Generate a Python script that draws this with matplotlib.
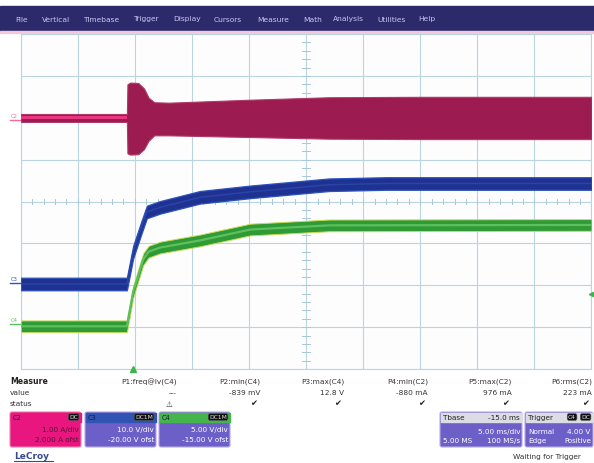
import matplotlib
matplotlib.use("Agg")
import matplotlib.pyplot as plt
from matplotlib.patches import FancyBboxPatch, Rectangle

W, H = 594, 464

# screen grid in pixels
GRID_L, GRID_R, GRID_T, GRID_B = 20.7, 591.5, 35, 370

menu_items = ["File", "Vertical", "Timebase", "Trigger", "Display", "Cursors",
              "Measure", "Math", "Analysis", "Utilities", "Help"]
menu_x = [15, 42, 83, 133, 173, 214, 257, 303, 333, 377, 418]

# channel settings (from the descriptor boxes)
time_per_div = 5.00              # ms/div
c2_scale, c2_offset = 1.00, 2.000    # A/div, A ofst
c3_scale, c3_offset = 10.0, -20.00   # V/div, V ofst
c4_scale, c4_offset = 5.00, -15.00   # V/div, V ofst
trig_level = 4.00                # V on C4
trig_time = 9.85                 # ms from left edge

# C2 current envelope (ms, A)
c2_t = [0, 9.3, 9.35, 9.6, 10.3, 10.8, 11.2, 11.7, 13.0, 20.0, 27.0, 35.0, 50.0]
c2_hi = [0.09, 0.09, 0.80, 0.84, 0.83, 0.70, 0.48, 0.37, 0.36, 0.43, 0.49, 0.50, 0.50]
c2_lo = [-0.10, -0.10, -0.85, -0.88, -0.87, -0.75, -0.55, -0.42, -0.42, -0.46, -0.50, -0.51, -0.51]
# bright idle part before the switch-on
c2_idle_t = [0, 9.3]
c2_idle_hi = [0.04, 0.04]
c2_idle_lo = [-0.04, -0.04]

# C3 voltage (ms, V) and noise half-band
c3_t = [0, 9.3, 9.85, 10.6, 11.05, 12.2, 15.7, 20.1, 27.0, 32.0, 50.0]
c3_v = [0.3, 0.3, 7.9, 14.0, 17.5, 18.6, 21.0, 22.3, 24.0, 24.3, 24.3]
c3_band = 1.5

# C4 voltage (ms, V) and noise half-band
c4_t = [0, 9.3, 9.85, 10.73, 11.2, 12.2, 15.7, 20.1, 27.0, 50.0]
c4_v = [0.1, 0.1, 4.2, 8.1, 9.0, 9.5, 10.35, 11.65, 12.15, 12.2]
c4_band = 0.7

meas_names = ["P1:freq@lv(C4)", "P2:min(C4)", "P3:max(C4)", "P4:min(C2)", "P5:max(C2)", "P6:rms(C2)"]
meas_values = ["---", "-839 mV", "12.8 V", "-880 mA", "976 mA", "223 mA"]
meas_status = ["\u26a0", "\u2714", "\u2714", "\u2714", "\u2714", "\u2714"]
meas_right = [177, 260, 344, 428, 512, 592]


def to_div(vals, scale, offset):
    return [(v + offset) / scale for v in vals]


fig = plt.figure(figsize=(W / 100, H / 100), dpi=100)
fig.patch.set_facecolor("white")

# background axes in pixel coordinates
bg = fig.add_axes([0, 0, 1, 1])
bg.set_xlim(0, W)
bg.set_ylim(H, 0)
bg.axis("off")

# menu bar
bg.add_patch(Rectangle((0, 7), W, 25, color="#2d2a6c"))
bg.add_patch(Rectangle((0, 32), W, 1.5, color="#f1c9da"))
for name, x in zip(menu_items, menu_x):
    bg.text(x, 19.5, name, color="#c9c3f2", fontsize=5.4, ha="left", va="center")

# scope axes
ax = fig.add_axes([GRID_L / W, 1 - GRID_B / H, (GRID_R - GRID_L) / W, (GRID_B - GRID_T) / H])
ax.set_facecolor("#fdfdfe")
ax.set_xlim(0, 10 * time_per_div)
ax.set_ylim(-4, 4)
ax.set_xticks([i * time_per_div for i in range(11)])
ax.set_yticks(range(-4, 5))
ax.tick_params(length=0, labelbottom=False, labelleft=False)
ax.grid(True, color="#bad4e0", lw=0.8)
for s in ax.spines.values():
    s.set_color("#bad4e0")
    s.set_linewidth(0.8)
# minor ticks on the centre cross
for i in range(51):
    x = i * time_per_div / 5
    ax.plot([x, x], [-0.07, 0.07], color="#a9c8d8", lw=0.7)
for i in range(41):
    y = -4 + i * 0.2
    ax.plot([25 - 0.35, 25 + 0.35], [y, y], color="#a9c8d8", lw=0.7)

# C2 trace
ax.fill_between(c2_t, to_div(c2_hi, c2_scale, c2_offset), to_div(c2_lo, c2_scale, c2_offset),
                color="#9c1b50", lw=0.8, edgecolor="#b03a68", zorder=3)
ax.fill_between(c2_idle_t, to_div(c2_idle_hi, c2_scale, c2_offset),
                to_div(c2_idle_lo, c2_scale, c2_offset), color="#e8357f", lw=0, zorder=4)

# C3 trace
c3_hi = [v + c3_band for v in c3_v]
c3_lo = [v - c3_band for v in c3_v]
ax.fill_between(c3_t, to_div(c3_hi, c3_scale, c3_offset), to_div(c3_lo, c3_scale, c3_offset),
                color="#1f3292", edgecolor="#2c52bc", lw=0.9, zorder=3)
ax.plot(c3_t, to_div(c3_v, c3_scale, c3_offset), color="#2a45a8", lw=1.0, zorder=4)

# C4 trace
c4_hi = [v + c4_band for v in c4_v]
c4_lo = [v - c4_band for v in c4_v]
ax.fill_between(c4_t, to_div(c4_hi, c4_scale, c4_offset), to_div(c4_lo, c4_scale, c4_offset),
                color="#2f9a36", edgecolor="#c9dc5a", lw=0.7, zorder=3)
ax.plot(c4_t, to_div(c4_v, c4_scale, c4_offset), color="#5cc05e", lw=1.6, zorder=4)

# trigger markers
ax.plot([trig_time], [-4], marker="^", color="#3cb44a", ms=4, clip_on=False, zorder=6)
ax.plot([50], [(trig_level + c4_offset) / c4_scale], marker="<", color="#3cb44a", ms=3,
        clip_on=False, zorder=6)

# channel tags on the left
for lbl, col, y in [("C2", "#f06aa0", 117), ("C3", "#2c55bc", 280), ("C4", "#5cc060", 321)]:
    bg.text(11, y, lbl, color=col, fontsize=3.8, ha="left", va="center")
    bg.plot([10, 20], [y + 4, y + 4], color=col, lw=1.0)

# measure table
bg.text(10, 382, "Measure", fontsize=5.6, weight="bold", color="#222222", va="center")
bg.text(10, 393, "value", fontsize=5.3, color="#333333", va="center")
bg.text(10, 404, "status", fontsize=5.3, color="#333333", va="center")
for name, val, st, xr in zip(meas_names, meas_values, meas_status, meas_right):
    bg.text(xr, 382, name, fontsize=5.3, color="#333333", ha="right", va="center")
    if val == "---":
        bg.text(xr - 4, 393, val, fontsize=5.3, color="#333333", ha="center", va="center")
        bg.text(xr - 8, 404, st, fontsize=5.5, color="#333333", ha="center", va="center")
    else:
        bg.text(xr, 393, val, fontsize=5.3, color="#333333", ha="right", va="center")
        bg.text(xr - 6, 404, st, fontsize=6, color="#222222", ha="center", va="center")


def box(x, y, w, h, face, edge):
    bg.add_patch(FancyBboxPatch((x, y), w, h, boxstyle="round,pad=0,rounding_size=2",
                                facecolor=face, edgecolor=edge, lw=0.8))


def badge(xr, y, txt):
    bg.text(xr, y, txt, fontsize=4.3, color="#e0e0e0", ha="right", va="center",
            bbox=dict(boxstyle="round,pad=0.15,rounding_size=0.3", fc="#111111", ec="#555555", lw=0.4))


# channel descriptor boxes
chan_boxes = [
    ("C2", 10, "#e8167e", "#e8167e", "DC", ["1.00 A/div", "2.000 A ofst"], "#5b1234"),
    ("C3", 85, "#2f54b4", "#6c60c8", "DC1M", ["10.0 V/div", "-20.00 V ofst"], "white"),
    ("C4", 159, "#44b54a", "#6c60c8", "DC1M", ["5.00 V/div", "-15.00 V ofst"], "white"),
]
for name, x0, head, body, bdg, lines, tcol in chan_boxes:
    box(x0, 413, 71, 35, body, "#b8a8e8" if body != head else "#f080b0")
    bg.add_patch(Rectangle((x0 + 0.5, 413.5), 70, 9.5, color=head))
    bg.text(x0 + 3, 418, name, fontsize=4.8, color="#1a1a40", va="center")
    badge(x0 + 68, 418, bdg)
    bg.text(x0 + 69, 430, lines[0], fontsize=5.2, color=tcol, ha="right", va="center")
    bg.text(x0 + 69, 440, lines[1], fontsize=5.2, color=tcol, ha="right", va="center")

# timebase box
box(440, 413, 82, 35, "#6c60c8", "#b8a8e8")
bg.add_patch(Rectangle((440.5, 413.5), 81, 9.5, color="#dcdce4"))
bg.text(443, 418, "Tbase", fontsize=5.2, color="#222222", va="center")
bg.text(520, 418, "-15.0 ms", fontsize=5.2, color="#222222", ha="right", va="center")
bg.text(520, 432, "5.00 ms/div", fontsize=5.2, color="white", ha="right", va="center")
bg.text(443, 441, "5.00 MS", fontsize=5.2, color="white", va="center")
bg.text(520, 441, "100 MS/s", fontsize=5.2, color="white", ha="right", va="center")

# trigger box
box(525, 413, 68, 35, "#6c60c8", "#b8a8e8")
bg.add_patch(Rectangle((525.5, 413.5), 67, 9.5, color="#dcdce4"))
bg.text(528, 418, "Trigger", fontsize=5.2, color="#222222", va="center")
badge(576, 418, "C4")
badge(590, 418, "DC")
bg.text(528, 432, "Normal", fontsize=5.2, color="white", va="center")
bg.text(590, 432, "4.00 V", fontsize=5.2, color="white", ha="right", va="center")
bg.text(528, 441, "Edge", fontsize=5.2, color="white", va="center")
bg.text(591, 441, "Positive", fontsize=5.0, color="white", ha="right", va="center")

bg.text(547, 457, "Waiting for Trigger", fontsize=5.3, color="#333333", ha="center", va="center")
bg.text(14, 457, "LeCroy", fontsize=6.5, weight="bold", color="#3a4a8c", va="center")
bg.plot([14, 53], [462, 462], color="#3a4a8c", lw=0.8)

fig.savefig("out.png", dpi=100)
